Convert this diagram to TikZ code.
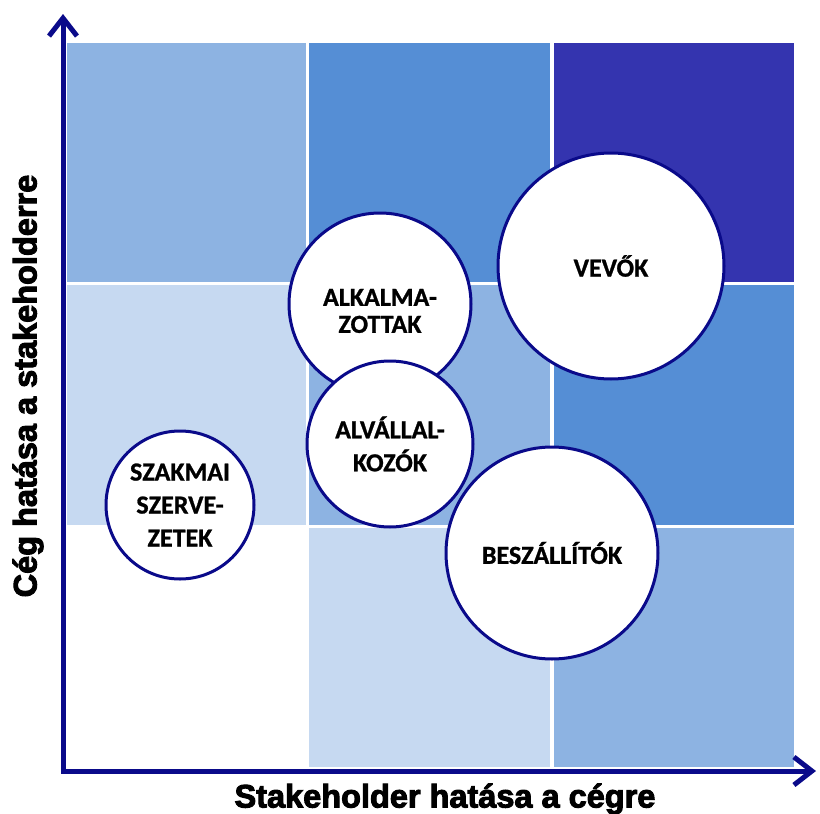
\documentclass[tikz,border=0pt]{standalone}
\usepackage{fontspec}
\usetikzlibrary{arrows.meta}
\newfontfamily\bubblefont{Carlito Bold}[FakeBold=1]
\newfontfamily\axisfont{Liberation Sans Bold}[FakeBold=3]
\definecolor{paleblue}{HTML}{C6D9F1}
\definecolor{lightblue}{HTML}{8DB3E2}
\definecolor{midblue}{HTML}{558ED5}
\definecolor{deepblue}{HTML}{3434AF}
\definecolor{navy}{HTML}{0A0A8A}
\tikzset{
	bubbletext/.style={align=center, font=\bubblefont\fontsize{26}{33}\selectfont},
	bubble/.style={circle, draw=navy, line width=3pt, fill=white, inner sep=0pt, bubbletext},
	axis/.style={draw=navy, line width=5pt, line join=miter,
		{Straight Barb[length=18pt,width=28pt]}-{Straight Barb[length=18pt,width=28pt]}},
	axislabel/.style={font=\axisfont\fontsize{32.5}{36}\selectfont},
}
\begin{document}
\begin{tikzpicture}[x=1pt,y=-1pt]
		\useasboundingbox (0,0) rectangle (820,814);
		% top row
		\fill[lightblue] (67,43) rectangle (306,282);
		\fill[midblue] (309,43) rectangle (550,282);
		\fill[deepblue] (554,43) rectangle (794,282);
		% middle row
		\fill[paleblue] (67,285) rectangle (306,525);
		\fill[lightblue] (309,285) rectangle (550,525);
		\fill[midblue] (554,285) rectangle (794,525);
		% bottom row
		\fill[paleblue] (309,528) rectangle (550,767);
		\fill[lightblue] (554,528) rectangle (794,767);
		% axes
		\coordinate (O) at (63,771);
		\coordinate (ytip) at (63,14);
		\coordinate (xtip) at (816,771);
		\draw[axis] (ytip) -- (O) -- (xtip);
		\node[axislabel] (xlabel) at (445,799) {Stakeholder hatása a cégre};
		\node[axislabel, rotate=90] (ylabel) at (28,386) {Cég hatása a stakeholderre};
		% stakeholders
		\node[bubble, minimum size=182pt,
			label={[bubbletext, yshift=-7pt]center:ALKALMA-\\[-6pt]ZOTTAK}] (alk) at (380,304) {};
		\node[bubble, minimum size=226pt] (vevo) at (611,266) {VEVŐK};
		\node[bubble, minimum size=166pt] (alv) at (390,444) {ALVÁLLAL-\\KOZÓK};
		\node[bubble, minimum size=212pt] (besz) at (552,553) {BESZÁLLÍTÓK};
		\node[bubble, minimum size=148pt] (szak) at (180,505) {SZAKMAI\\SZERVE-\\ZETEK};
	\end{tikzpicture}
\end{document}
